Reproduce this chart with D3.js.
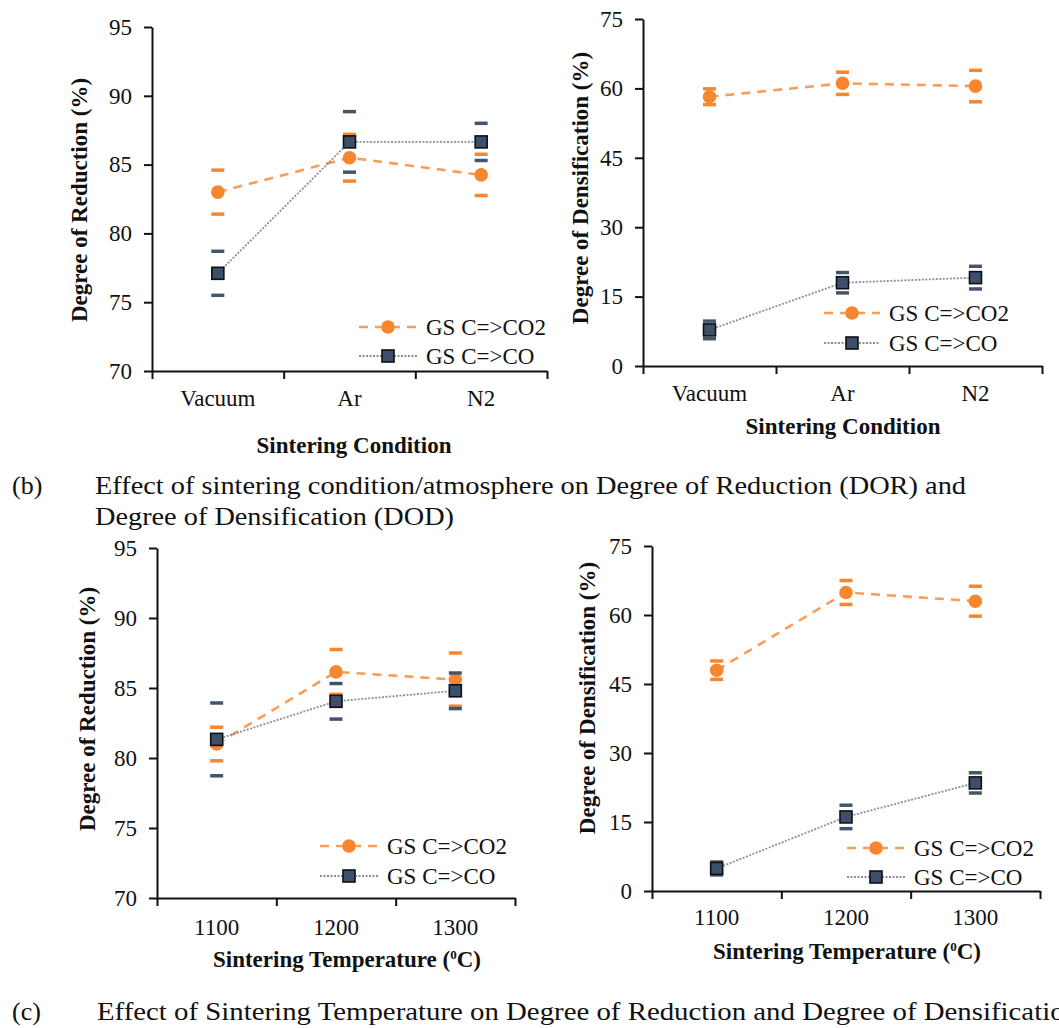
<!DOCTYPE html>
<html>
<head>
<meta charset="utf-8">
<script src="https://cdn.jsdelivr.net/npm/d3@7"></script>
<style>
  html, body { margin: 0; padding: 0; background: #fff; }
  svg { display: block; }
</style>
</head>
<body>
<svg id="chart" width="1059" height="1028"></svg>
<script>
// ---------------- DATA ----------------
const conditions = ["Vacuum", "Ar", "N2"];
const temperatures = ["1100", "1200", "1300"];
const seriesNames = ["GS C=>CO2", "GS C=>CO"];

const dorTicks = [70, 75, 80, 85, 90, 95];
const dodTicks = [0, 15, 30, 45, 60, 75];

// (b) sintering condition
const dorCondCO2 = [83.0, 85.5, 84.25];
const dorCondCO2Err = [1.6, 1.7, 1.5];
const dorCondCO = [77.1, 86.65, 86.65];
const dorCondCOErr = [1.6, 2.2, 1.35];

const dodCondCO2 = [58.2, 61.1, 60.5];
const dodCondCO2Err = [1.7, 2.4, 3.4];
const dodCondCO = [7.8, 18.0, 19.1];
const dodCondCOErr = [1.9, 2.2, 2.45];

// (c) sintering temperature
const dorTempCO2 = [81.0, 86.15, 85.6];
const dorTempCO2Err = [1.2, 1.6, 1.9];
const dorTempCO = [81.33, 84.05, 84.8];
const dorTempCOErr = [2.6, 1.27, 1.27];

const dodTempCO2 = [48.0, 64.9, 63.0];
const dodTempCO2Err = [2.0, 2.6, 3.25];
const dodTempCO = [4.9, 16.1, 23.5];
const dodTempCOErr = [1.4, 2.55, 2.2];

const captionB1 = "Effect of sintering condition/atmosphere on Degree of Reduction (DOR) and";
const captionB2 = "Degree of Densification (DOD)";
const captionC = "Effect of Sintering Temperature on Degree of Reduction and Degree of Densification";

// ---------------- STYLE ----------------
const FONT = '"Liberation Serif", "Times New Roman", serif';
const ORANGE = "#f7862f";
const ORANGE_LINE = "#f99d58";
const SLATE = "#44546a";
const SQUARE_FILL = "#3c4f6b";
const DOT_LINE = "#8a909b";
const INK = "#111";

const svg = d3.select("#chart");

const panels = [
  { cats: conditions, ticks: dorTicks, co2: dorCondCO2, co2e: dorCondCO2Err, co: dorCondCO, coe: dorCondCOErr,
    x0: 152, x1: 547, yTop: 27, yBot: 371, yTitle: "Degree of Reduction (%)", yTitlePos: [79, 200],
    xTitle: ["Sintering Condition"], xTitlePos: [354, 453], xLabelY: 398, legend: [359, 417, 327, 356] },
  { cats: conditions, ticks: dodTicks, co2: dodCondCO2, co2e: dodCondCO2Err, co: dodCondCO, coe: dodCondCOErr,
    x0: 643, x1: 1042, yTop: 19, yBot: 366, yTitle: "Degree of Densification (%)", yTitlePos: [580, 188],
    xTitle: ["Sintering Condition"], xTitlePos: [843, 434], xLabelY: 393, legend: [824, 880, 313, 343] },
  { cats: temperatures, ticks: dorTicks, co2: dorTempCO2, co2e: dorTempCO2Err, co: dorTempCO, coe: dorTempCOErr,
    x0: 157, x1: 515, yTop: 548, yBot: 898, yTitle: "Degree of Reduction (%)", yTitlePos: [87, 709],
    xTitle: ["Sintering Temperature (", "0", "C)"], xTitlePos: [347, 967], xLabelY: 927, legend: [320, 378, 846, 876] },
  { cats: temperatures, ticks: dodTicks, co2: dodTempCO2, co2e: dodTempCO2Err, co: dodTempCO, coe: dodTempCOErr,
    x0: 652, x1: 1040, yTop: 546, yBot: 891, yTitle: "Degree of Densification (%)", yTitlePos: [587, 698],
    xTitle: ["Sintering Temperature (", "0", "C)"], xTitlePos: [847, 959], xLabelY: 917, legend: [847, 905, 848, 877] }
];

panels.forEach(p => {
  const g = svg.append("g");
  const x = d3.scaleBand().domain(p.cats).range([p.x0, p.x1]).padding(0);
  const xb = d3.scaleLinear().domain([0, p.cats.length]).range([p.x0, p.x1]);
  const y = d3.scaleLinear().domain([p.ticks[0], p.ticks[p.ticks.length - 1]]).range([p.yBot, p.yTop]);

  // Y axis
  const ya = g.append("g").attr("transform", `translate(${p.x0},0)`)
    .call(d3.axisLeft(y).tickValues(p.ticks).tickSize(8).tickPadding(12).tickSizeOuter(0));
  ya.select(".domain").attr("stroke", INK).attr("stroke-width", 2);
  ya.selectAll(".tick line").attr("stroke", INK).attr("stroke-width", 2);
  ya.selectAll(".tick text").style("font-family", FONT).style("font-size", "23px").attr("fill", INK);

  // X axis: boundary tick marks
  const xa = g.append("g").attr("transform", `translate(0,${p.yBot})`)
    .call(d3.axisBottom(xb).tickValues(d3.range(p.cats.length + 1)).tickFormat("").tickSize(8).tickSizeOuter(0));
  xa.select(".domain").attr("stroke", INK).attr("stroke-width", 2);
  xa.selectAll(".tick line").attr("stroke", INK).attr("stroke-width", 2);

  // X category labels
  const xl = g.append("g").attr("transform", `translate(0,${p.xLabelY})`)
    .call(d3.axisBottom(x).tickSize(0).tickPadding(0));
  xl.select(".domain").remove();
  xl.selectAll(".tick text").attr("y", 0).attr("dy", "0.35em")
    .style("font-family", FONT).style("font-size", "23px").attr("fill", INK);

  // Axis titles
  g.append("text").attr("transform", `translate(${p.yTitlePos[0]},${p.yTitlePos[1]}) rotate(-90)`)
    .attr("text-anchor", "middle").attr("dy", "0.35em").attr("fill", INK)
    .style("font-family", FONT).style("font-size", "23px").style("font-weight", "bold").text(p.yTitle);
  const xt = g.append("text").attr("x", p.xTitlePos[0]).attr("y", p.xTitlePos[1])
    .attr("text-anchor", "middle").attr("fill", INK)
    .style("font-family", FONT).style("font-size", "23px").style("font-weight", "bold");
  if (p.xTitle.length === 1) {
    xt.text(p.xTitle[0]);
  } else {
    xt.append("tspan").text(p.xTitle[0]);
    xt.append("tspan").attr("dy", -8).style("font-size", "13px").text(p.xTitle[1]);
    xt.append("tspan").attr("dy", 8).text(p.xTitle[2]);
  }

  const cx = c => x(c) + x.bandwidth() / 2;

  const co2Data = p.cats.map((c, i) => ({ c, v: p.co2[i], e: p.co2e[i] }));
  const coData = p.cats.map((c, i) => ({ c, v: p.co[i], e: p.coe[i] }));
  const line = d3.line().x(d => cx(d.c)).y(d => y(d.v));

  function drawSeries(data, kind) {
    const sg = g.append("g");
    sg.append("path").datum(data).attr("d", line).attr("fill", "none")
      .attr("stroke", kind === "co2" ? ORANGE_LINE : DOT_LINE)
      .attr("stroke-width", kind === "co2" ? 2.6 : 1.8)
      .attr("stroke-dasharray", kind === "co2" ? "9,7" : "2,1.5");
    const caps = [];
    data.forEach(d => { caps.push({ c: d.c, v: d.v + d.e }); caps.push({ c: d.c, v: d.v - d.e }); });
    sg.selectAll("line.cap").data(caps).join("line").attr("class", "cap")
      .attr("x1", d => cx(d.c) - 6.5).attr("x2", d => cx(d.c) + 6.5)
      .attr("y1", d => y(d.v)).attr("y2", d => y(d.v))
      .attr("stroke", kind === "co2" ? ORANGE : SLATE).attr("stroke-width", 3.5);
    if (kind === "co2") {
      sg.selectAll("circle").data(data).join("circle")
        .attr("cx", d => cx(d.c)).attr("cy", d => y(d.v)).attr("r", 6.8).attr("fill", ORANGE);
    } else {
      sg.selectAll("rect").data(data).join("rect")
        .attr("x", d => cx(d.c) - 6).attr("y", d => y(d.v) - 6).attr("width", 12).attr("height", 12)
        .attr("fill", SQUARE_FILL).attr("stroke", INK).attr("stroke-width", 1.6);
    }
  }
  drawSeries(co2Data, "co2");
  drawSeries(coData, "co");

  // Legend
  const [lx0, lx1, ly0, ly1] = p.legend;
  const lmid = (lx0 + lx1) / 2;
  const lg = g.append("g");
  lg.append("line").attr("x1", lx0).attr("x2", lx1).attr("y1", ly0).attr("y2", ly0)
    .attr("stroke", ORANGE_LINE).attr("stroke-width", 2.6).attr("stroke-dasharray", "9,7");
  lg.append("circle").attr("cx", lmid).attr("cy", ly0).attr("r", 6.8).attr("fill", ORANGE);
  lg.append("text").attr("x", lx1 + 9).attr("y", ly0).attr("dy", "0.35em").attr("fill", INK)
    .style("font-family", FONT).style("font-size", "23px").text(seriesNames[0]);
  lg.append("line").attr("x1", lx0).attr("x2", lx1).attr("y1", ly1).attr("y2", ly1)
    .attr("stroke", DOT_LINE).attr("stroke-width", 1.8).attr("stroke-dasharray", "2,1.5");
  lg.append("rect").attr("x", lmid - 6).attr("y", ly1 - 6).attr("width", 12).attr("height", 12)
    .attr("fill", SQUARE_FILL).attr("stroke", INK).attr("stroke-width", 1.6);
  lg.append("text").attr("x", lx1 + 9).attr("y", ly1).attr("dy", "0.35em").attr("fill", INK)
    .style("font-family", FONT).style("font-size", "23px").text(seriesNames[1]);
});

// Captions
function cap(xp, yp, txt, len) {
  const t = svg.append("text").attr("x", xp).attr("y", yp).attr("fill", INK)
    .style("font-family", FONT).style("font-size", "26px").text(txt);
  if (len) t.attr("textLength", len).attr("lengthAdjust", "spacingAndGlyphs");
}
cap(12, 494, "(b)");
cap(95, 494, captionB1, 871);
cap(95, 525, captionB2, 359);
cap(12, 1020, "(c)");
cap(97, 1020, captionC, 982);
</script>
</body>
</html>
